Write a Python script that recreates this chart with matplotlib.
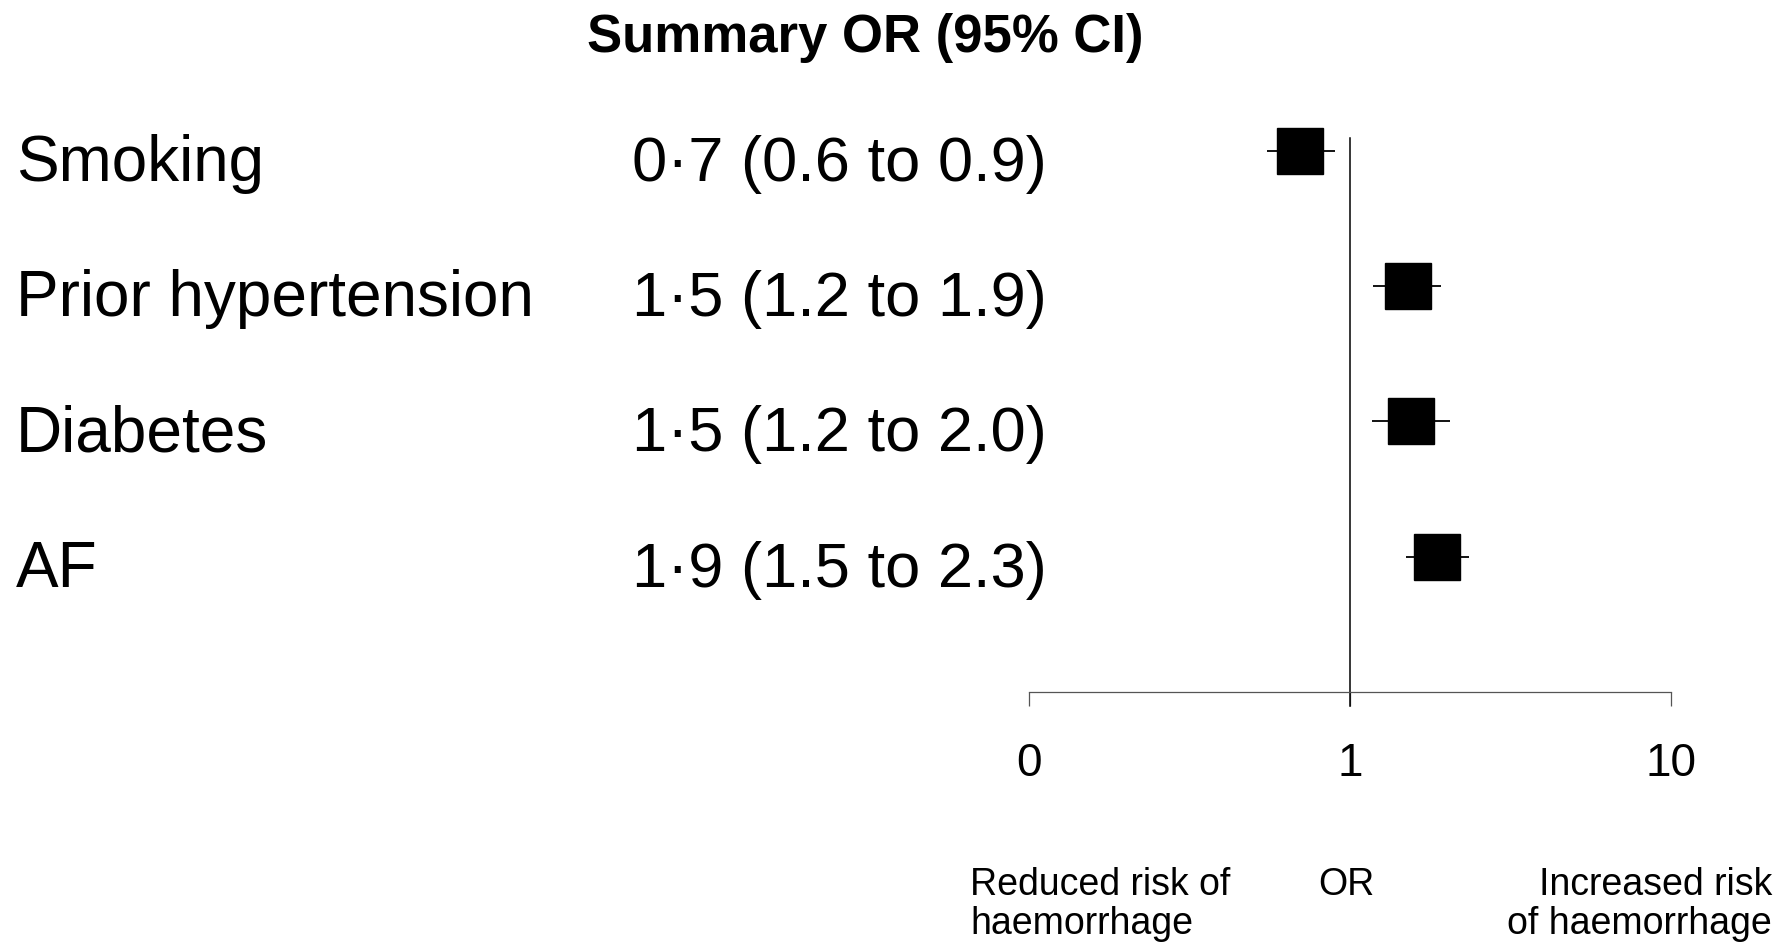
import matplotlib
matplotlib.use("Agg")
import matplotlib.pyplot as plt

plt.rcParams['font.family'] = ['Liberation Sans', 'DejaVu Sans']

# data
factors = ["Smoking", "Prior hypertension", "Diabetes", "AF"]
or_text = ["0\u00b77 (0.6 to 0.9)", "1\u00b75 (1.2 to 1.9)",
           "1\u00b75 (1.2 to 2.0)", "1\u00b79 (1.5 to 2.3)"]
odds = [0.70, 1.52, 1.55, 1.87]
lower = [0.55, 1.18, 1.17, 1.49]
upper = [0.90, 1.92, 2.05, 2.35]
tick_vals = [0.1, 1, 10]
tick_labels = ["0", "1", "10"]

W, H = 1789, 949
fig = plt.figure(figsize=(W / 100, H / 100), dpi=100)

# forest panel (pixel layout from the reference)
left, right, bottom, top = 1029, 1671, 692, 83
ax = fig.add_axes([left / W, 1 - bottom / H, (right - left) / W, (bottom - top) / H])
ax.set_xscale('log')
ax.set_xlim(0.1, 10)
ax.set_ylim(0, 4.5)

rows = list(range(len(factors), 0, -1))

for y, lo, hi in zip(rows, lower, upper):
    ax.plot([lo, hi], [y, y], color='black', lw=1.3, solid_capstyle='butt')
ax.plot(odds, rows, 's', color='black', markersize=33, linestyle='none')

# line of no effect
ax.plot([1, 1], [-0.1, 4.09], color='black', lw=1.1, clip_on=False)

for s in ['top', 'right', 'left']:
    ax.spines[s].set_visible(False)
ax.spines['bottom'].set_color('#555555')
ax.spines['bottom'].set_linewidth(0.9)
ax.set_yticks([])
ax.set_xticks(tick_vals)
ax.set_xticklabels(tick_labels, fontsize=33)
ax.xaxis.set_minor_locator(matplotlib.ticker.NullLocator())
ax.tick_params(axis='x', direction='out', length=10, width=0.9, color='#555555', pad=26)

# row text
for y, name, txt in zip(rows, factors, or_text):
    ax.annotate(name, xy=(16 / W, y), xycoords=('figure fraction', 'data'),
                xytext=(0, -21.6), textcoords='offset points',
                ha='left', va='baseline', fontsize=46)
    ax.annotate(txt, xy=(632 / W, y), xycoords=('figure fraction', 'data'),
                xytext=(0, -21.6), textcoords='offset points',
                ha='left', va='baseline', fontsize=45.5)

fig.text(865 / W, 1 - 38 / H, "Summary OR (95% CI)", ha='center', va='center',
         fontsize=38, fontweight='bold')

fig.text(970 / W, 1 - 934 / H, "Reduced risk of\nhaemorrhage", ha='left',
         va='baseline', fontsize=27, linespacing=1.12)
fig.text(1346 / W, 1 - 895 / H, "OR", ha='center', va='baseline', fontsize=27)
fig.text(1772 / W, 1 - 934 / H, "Increased risk\nof haemorrhage", ha='right',
         va='baseline', fontsize=27, linespacing=1.12, multialignment='right')

fig.savefig("out.png", dpi=100)
